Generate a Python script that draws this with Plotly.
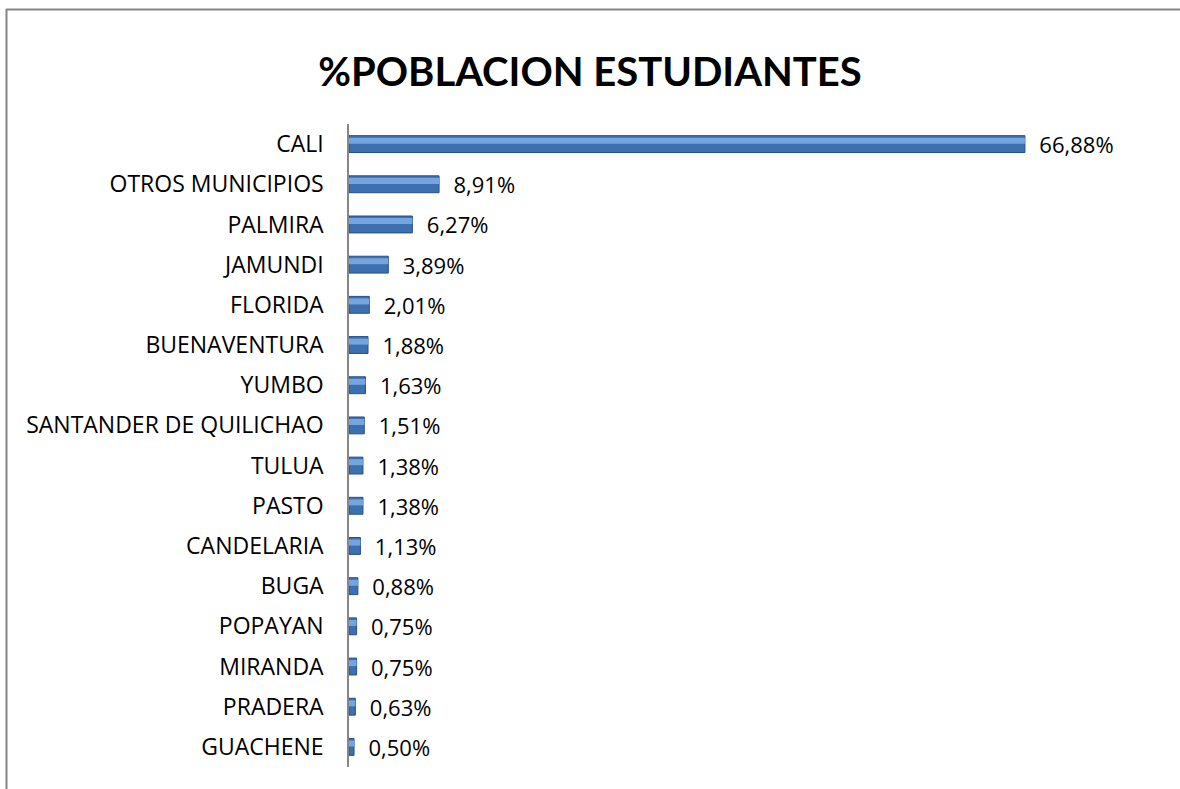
import plotly.graph_objects as go

municipios = [
    "CALI", "OTROS MUNICIPIOS", "PALMIRA", "JAMUNDI", "FLORIDA", "BUENAVENTURA",
    "YUMBO", "SANTANDER DE QUILICHAO", "TULUA", "PASTO", "CANDELARIA", "BUGA",
    "POPAYAN", "MIRANDA", "PRADERA", "GUACHENE",
]
porcentajes = [
    66.88, 8.91, 6.27, 3.89, 2.01, 1.88, 1.63, 1.51, 1.38, 1.38, 1.13, 0.88,
    0.75, 0.75, 0.63, 0.50,
]

W, H = 1180, 789
M_L, M_R, M_T, M_B = 349, 73, 124, 22
X_MAX = 75
FONT = "Open Sans"


def fmt(v):
    return "  " + f"{v:.2f}".replace(".", ",") + "%"


fig = go.Figure()
# main bar body
fig.add_trace(
    go.Bar(
        x=porcentajes,
        y=municipios,
        orientation="h",
        width=0.42,
        marker=dict(color="#3D70AE", line=dict(color="#24508A", width=1)),
        text=[fmt(v) for v in porcentajes],
        textposition="outside",
        constraintext="none",
        textfont=dict(family=FONT, size=22, color="#000000"),
        cliponaxis=False,
        hoverinfo="x+y",
    )
)
# lighter bevel highlight on the upper half of each bar
fig.add_trace(
    go.Bar(
        x=porcentajes,
        y=municipios,
        orientation="h",
        width=0.15,
        offset=-0.16,
        marker=dict(color="#74A5DE", line=dict(width=0)),
        hoverinfo="skip",
    )
)

# frame of the original chart (only top and left edges show)
pw = W - M_L - M_R
ph = H - M_T - M_B


def px_x(p):
    return (p - M_L) / pw


def px_y(p):
    return (H - M_B - p) / ph


fig.add_shape(type="line", xref="paper", yref="paper",
              x0=px_x(6), x1=px_x(W + 5), y0=px_y(9.5), y1=px_y(9.5),
              line=dict(color="#868686", width=2))
fig.add_shape(type="line", xref="paper", yref="paper",
              x0=px_x(6.5), x1=px_x(6.5), y0=px_y(9), y1=px_y(H + 5),
              line=dict(color="#868686", width=2))

fig.update_layout(
    width=W,
    height=H,
    margin=dict(l=M_L, r=M_R, t=M_T, b=M_B),
    paper_bgcolor="white",
    plot_bgcolor="white",
    showlegend=False,
    barmode="overlay",
    title=dict(
        text="<b>%POBLACION ESTUDIANTES</b>",
        x=0.5,
        xref="container",
        xanchor="center",
        y=1 - 72 / H,
        yanchor="middle",
        font=dict(family="Lato", size=40, color="#000000"),
    ),
    xaxis=dict(
        range=[0, X_MAX],
        visible=False,
        fixedrange=True,
    ),
    yaxis=dict(
        autorange="reversed",
        showline=True,
        linecolor="#868686",
        linewidth=1.5,
        showgrid=False,
        ticks="",
        ticklabelstandoff=19,
        tickfont=dict(family=FONT, size=23, color="#000000"),
    ),
)

fig.write_html(
    "out.html",
    config={"displayModeBar": False},
    post_script="document.body.style.margin='0';",
)
